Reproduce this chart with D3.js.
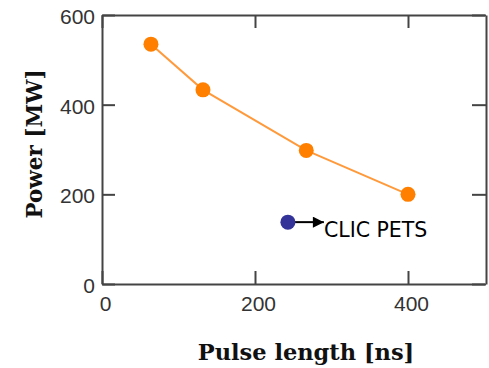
<!DOCTYPE html>
<html>
<head>
<meta charset="utf-8">
<script src="https://cdn.jsdelivr.net/npm/d3@7"></script>
<style>
  html, body { margin: 0; padding: 0; background: #fff; }
  svg { display: block; }
</style>
</head>
<body>
<svg id="chart" width="489" height="368"></svg>
<script>
// Output power versus pulse length
const pulseLength = [64, 132, 267, 400];
const power = [535, 433, 298, 200];

// CLIC PETS operating point
const petsPulse = [243];
const petsPower = [138];
const petsLabel = "CLIC PETS";

const xTicks = [0, 200, 400];
const yTicks = [0, 200, 400, 600];
const xTitle = "Pulse length [ns]";
const yTitle = "Power [MW]";

const svg = d3.select("#chart");
const plotLeft = 102, plotRight = 486, plotTop = 15, plotBottom = 284;

const x = d3.scaleLinear().domain([0, 500]).range([plotLeft, plotRight - 1.5]);
const y = d3.scaleLinear().domain([0, 600]).range([plotBottom, plotTop]);

const axisColor = "#444";
const tickFont = "'Liberation Sans', Arial, sans-serif";

function styleAxis(g) {
  g.selectAll("path.domain").attr("stroke", axisColor).attr("stroke-width", 2);
  g.selectAll(".tick line").attr("stroke", axisColor).attr("stroke-width", 2);
  g.selectAll(".tick text")
    .attr("fill", "#333")
    .style("font-family", tickFont)
    .style("font-size", "21px");
}

// Left axis with inward ticks
svg.append("g")
  .attr("transform", `translate(${plotLeft},0)`)
  .call(d3.axisLeft(y).tickValues(yTicks).tickSizeInner(-13).tickSizeOuter(0).tickPadding(7))
  .call(styleAxis)
  .call(g => g.selectAll(".tick text").attr("dy", "0.4em"));

// Right axis, ticks only
svg.append("g")
  .attr("transform", `translate(${plotRight},0)`)
  .call(d3.axisRight(y).tickValues(yTicks).tickSizeInner(-14).tickSizeOuter(0).tickFormat(""))
  .call(styleAxis);

// Bottom axis with inward ticks
svg.append("g")
  .attr("transform", `translate(0,${plotBottom})`)
  .call(d3.axisBottom(x).tickValues(xTicks).tickSizeInner(-13).tickSizeOuter(0).tickPadding(12))
  .call(styleAxis)
  .call(g => g.selectAll(".tick text").attr("dx", 3));

// Top axis, ticks only
svg.append("g")
  .attr("transform", `translate(0,${plotTop})`)
  .call(d3.axisTop(x).tickValues(xTicks).tickSizeInner(-13).tickSizeOuter(0).tickFormat(""))
  .call(styleAxis);

// Axis titles
const titleFont = "'DejaVu Serif', 'Liberation Serif', serif";
svg.append("text")
  .attr("x", 306).attr("y", 360)
  .attr("text-anchor", "middle")
  .style("font-family", titleFont)
  .style("font-weight", "bold")
  .style("font-size", "22.5px")
  .attr("fill", "#111")
  .text(xTitle);

svg.append("text")
  .attr("transform", "translate(42,144) rotate(-90)")
  .attr("text-anchor", "middle")
  .style("font-family", titleFont)
  .style("font-weight", "bold")
  .style("font-size", "21.5px")
  .attr("fill", "#111")
  .text(yTitle);

// Power curve
const pts = pulseLength.map((d, i) => [d, power[i]]);
svg.append("path")
  .datum(pts)
  .attr("fill", "none")
  .attr("stroke", "#ff9a3c")
  .attr("stroke-width", 2)
  .attr("d", d3.line().x(d => x(d[0])).y(d => y(d[1])));

svg.selectAll("circle.pw")
  .data(pts)
  .join("circle")
  .attr("class", "pw")
  .attr("cx", d => x(d[0]))
  .attr("cy", d => y(d[1]))
  .attr("r", 7.5)
  .attr("fill", "#ff8000");

// PETS point with arrow and label
const pets = petsPulse.map((d, i) => [d, petsPower[i]]);
svg.append("defs").append("marker")
  .attr("id", "arrow")
  .attr("viewBox", "0 0 10 10")
  .attr("refX", 10).attr("refY", 5)
  .attr("markerWidth", 13).attr("markerHeight", 11)
  .attr("markerUnits", "userSpaceOnUse")
  .attr("orient", "auto")
  .append("path")
  .attr("d", "M0,0 L10,5 L0,10 Z")
  .attr("fill", "#000");

svg.selectAll("line.arrow")
  .data(pets)
  .join("line")
  .attr("class", "arrow")
  .attr("x1", d => x(d[0]) + 6)
  .attr("x2", d => x(d[0]) + 36)
  .attr("y1", d => y(d[1]))
  .attr("y2", d => y(d[1]))
  .attr("stroke", "#000")
  .attr("stroke-width", 2)
  .attr("marker-end", "url(#arrow)");

svg.selectAll("circle.pets")
  .data(pets)
  .join("circle")
  .attr("class", "pets")
  .attr("cx", d => x(d[0]))
  .attr("cy", d => y(d[1]))
  .attr("r", 7.5)
  .attr("fill", "#33339a");

svg.selectAll("text.pets")
  .data(pets)
  .join("text")
  .attr("class", "pets")
  .attr("x", d => x(d[0]) + 36)
  .attr("y", d => y(d[1]) + 15)
  .style("font-family", "'DejaVu Sans', sans-serif")
  .style("font-size", "20.5px")
  .attr("fill", "#000")
  .text(petsLabel);
</script>
</body>
</html>
